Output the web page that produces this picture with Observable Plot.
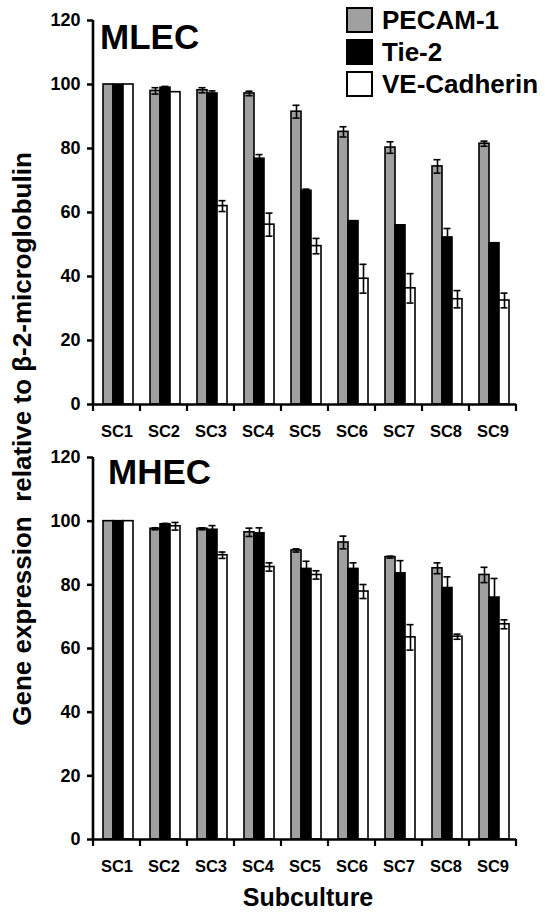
<!DOCTYPE html>
<html>
<head>
<meta charset="utf-8">
<script src="https://cdn.jsdelivr.net/npm/d3@7"></script>
<script src="https://cdn.jsdelivr.net/npm/@observablehq/plot@0.6"></script>
<style>
  html, body { margin: 0; padding: 0; background: #fff; }
  #wrap { position: relative; width: 545px; height: 912px; overflow: hidden;
          font-family: "Liberation Sans", Arial, Helvetica, sans-serif; font-weight: bold; color: #000; }
  .panel { position: absolute; left: 0; }
  #overlay { position: absolute; left: 0; top: 0; pointer-events: none; }
  #overlay text { font-family: "Liberation Sans", Arial, Helvetica, sans-serif; font-weight: bold; fill: #000; white-space: pre; }
</style>
</head>
<body>
<div id="wrap"></div>
<script>
// ---------- data ----------
const subcultures = ["SC1", "SC2", "SC3", "SC4", "SC5", "SC6", "SC7", "SC8", "SC9"];
const genes = ["PECAM-1", "Tie-2", "VE-Cadherin"];
const geneColors = ["#a0a0a0", "#000000", "#ffffff"];
const yTicks = [0, 20, 40, 60, 80, 100, 120];

// MLEC panel
const mlecPECAM    = [100, 98.0, 98.2, 97.2, 91.5, 85.2, 80.3, 74.4, 81.5];
const mlecPECAMErr = [0,   1.0,  0.8,  0.7,  2.0,  1.6,  1.8,  2.1,  0.8];
const mlecTie2     = [100, 99.0, 97.2, 76.8, 66.8, 57.3, 56.0, 52.2, 50.4];
const mlecTie2Err  = [0,   0.4,  0.8,  1.3,  0.5,  0,    0,    2.8,  0];
const mlecVE       = [100, 97.6, 62.0, 56.2, 49.5, 39.3, 36.3, 32.9, 32.5];
const mlecVEErr    = [0,   0,    1.7,  3.6,  2.4,  4.5,  4.6,  2.7,  2.3];

// MHEC panel
const mhecPECAM    = [100, 97.6, 97.6, 96.5, 90.8, 93.3, 88.7, 85.2, 83.1];
const mhecPECAMErr = [0,   0.3,  0.3,  1.3,  0.5,  2.0,  0.3,  1.7,  2.4];
const mhecTie2     = [100, 99.0, 97.3, 96.2, 85.0, 85.0, 83.6, 79.0, 76.0];
const mhecTie2Err  = [0,   0.3,  1.3,  1.7,  2.4,  1.9,  4.0,  3.5,  6.0];
const mhecVE       = [100, 98.4, 89.3, 85.6, 83.1, 77.9, 63.5, 63.7, 67.6];
const mhecVEErr    = [0,   1.2,  1.0,  1.3,  1.3,  2.2,  4.0,  0.8,  1.4];

const panelNames = ["MLEC", "MHEC"];
const xTitle = "Subculture";
const yTitle = "Gene expression  relative to \u03B2-2-microglobulin";

// ---------- build tables ----------
function buildRows(series) {
  return series.flatMap(([gene, vals, errs]) =>
    subcultures.map((sc, i) => ({ sc, gene, value: vals[i], err: errs[i] })));
}
const mlecRows = buildRows([["PECAM-1", mlecPECAM, mlecPECAMErr], ["Tie-2", mlecTie2, mlecTie2Err], ["VE-Cadherin", mlecVE, mlecVEErr]]);
const mhecRows = buildRows([["PECAM-1", mhecPECAM, mhecPECAMErr], ["Tie-2", mhecTie2, mhecTie2Err], ["VE-Cadherin", mhecVE, mhecVEErr]]);

const FONT = '"Liberation Sans", Arial, Helvetica, sans-serif';
const wrap = document.getElementById("wrap");

function makePanel(rows, top, height, marginTop, marginBottom) {
  const withErr = rows.filter(d => d.err > 0);
  const plot = Plot.plot({
    width: 545,
    height,
    marginLeft: 90,
    marginRight: 27,
    marginTop,
    marginBottom,
    style: { fontFamily: FONT, fontWeight: "bold", fontSize: "16px", color: "#000", background: "transparent", overflow: "visible" },
    fx: { domain: subcultures, padding: 0 },
    x: { domain: genes, paddingInner: 0, paddingOuter: 0.7, align: 0.6, axis: null },
    y: { domain: [0, 120] },
    color: { domain: genes, range: geneColors },
    marks: [
      Plot.barY(rows, { fx: "sc", x: "gene", y: "value", fill: "gene", stroke: "#000", strokeWidth: 1.6 }),
      Plot.ruleX(withErr, { fx: "sc", x: "gene", y1: d => d.value - d.err, y2: d => d.value + d.err, stroke: "#000", strokeWidth: 1.6 }),
      Plot.tickY(withErr, { fx: "sc", x: "gene", y: d => d.value + d.err, stroke: "#000", strokeWidth: 1.6, inset: 1.5 }),
      Plot.tickY(withErr, { fx: "sc", x: "gene", y: d => d.value - d.err, stroke: "#000", strokeWidth: 1.6, inset: 1.5 }),
      Plot.ruleY([0], { stroke: "#000", strokeWidth: 2.5 }),
      Plot.axisY({ ticks: yTicks, tickSize: 6, tickPadding: 7, fontSize: 18, strokeWidth: 2.5, label: null }),
      Plot.axisFx({ anchor: "bottom", tickSize: 0, tickPadding: 21, fontSize: 16.5, label: null })
    ]
  });
  plot.classList.add("panel");
  plot.style.top = top + "px";
  wrap.appendChild(plot);

  // axis line and category boundary ticks, positioned with the plot's own scales
  const fx = plot.scale("fx");
  const y = plot.scale("y");
  const svg = d3.select(plot);
  const y0 = y.apply(0), y120 = y.apply(120);
  const x0 = fx.apply(subcultures[0]);
  svg.append("line").attr("x1", x0).attr("x2", x0).attr("y1", y120).attr("y2", y0 + 1)
     .attr("stroke", "#000").attr("stroke-width", 2.6);
  const bounds = subcultures.map(d => fx.apply(d)).concat([fx.apply(subcultures[subcultures.length - 1]) + fx.bandwidth]);
  svg.selectAll("line.bt").data(bounds).join("line").attr("class", "bt")
     .attr("x1", d => d).attr("x2", d => d).attr("y1", y0).attr("y2", y0 + 7)
     .attr("stroke", "#000").attr("stroke-width", 2.2);
  return plot;
}

makePanel(mlecRows, 0, 445, 20, 41);
makePanel(mhecRows, 445, 467, 12, 73);

// ---------- overlay texts: panel names, legend, titles ----------
const ov = d3.select(wrap).append("svg").attr("id", "overlay").attr("width", 545).attr("height", 912);
ov.append("text").attr("x", 100).attr("y", 49).attr("font-size", 35).text(panelNames[0]);
ov.append("text").attr("x", 108).attr("y", 484).attr("font-size", 35).text(panelNames[1]);

const lg = ov.append("g");
genes.forEach((g, i) => {
  const yy = 8 + i * 32;
  lg.append("rect").attr("x", 347).attr("y", yy).attr("width", 25).attr("height", 24)
    .attr("fill", geneColors[i]).attr("stroke", "#000").attr("stroke-width", 2);
  lg.append("text").attr("x", 382).attr("y", yy + 12).attr("dy", "0.36em").attr("font-size", 26).text(g);
});

ov.append("text").attr("transform", "translate(22,439) rotate(-90)").attr("text-anchor", "middle")
  .attr("xml:space", "preserve").attr("dy", "0.36em").attr("font-size", 26).text(yTitle);
ov.append("text").attr("x", 308).attr("y", 906).attr("text-anchor", "middle").attr("font-size", 25).text(xTitle);
</script>
</body>
</html>
